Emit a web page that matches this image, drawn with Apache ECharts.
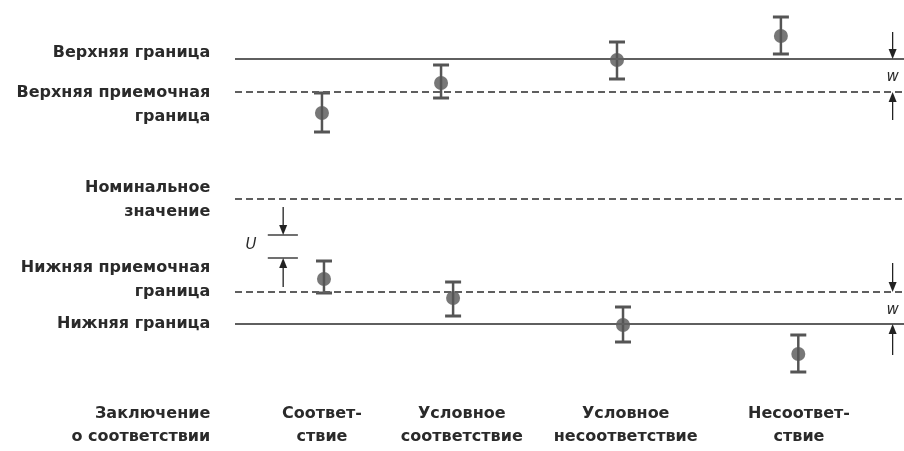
<!DOCTYPE html>
<html>
<head>
<meta charset="utf-8">
<script src="https://cdn.jsdelivr.net/npm/echarts@6/dist/echarts.min.js"></script>
<style>
  html, body { margin: 0; padding: 0; background: #fff; }
  #chart { width: 904px; height: 451px; }
</style>
</head>
<body>
<div id="chart"></div>
<script>
// Tolerance limits, in units relative to the nominal value
const upperLimit = 14.0;
const upperAcceptance = 10.7;
const nominalValue = 0;
const lowerAcceptance = -9.3;
const lowerLimit = -12.5;

// Measurement results near the upper limit: position, value, interval ends
const upperX = [13.0, 30.8, 57.1, 81.6];
const upperValues = [8.6, 11.6, 13.9, 16.3];
const upperLow = [6.7, 10.1, 12.0, 14.5];
const upperHigh = [10.6, 13.4, 15.7, 18.2];

// Measurement results near the lower limit
const lowerX = [13.3, 32.6, 58.0, 84.2];
const lowerValues = [-8.0, -9.9, -12.6, -15.5];
const lowerLow = [-9.4, -11.7, -14.3, -17.3];
const lowerHigh = [-6.2, -8.3, -10.8, -13.6];

// Conformity decisions under each pair of results
const categories = [
  ['Соответ-', 'ствие'],
  ['Условное', 'соответствие'],
  ['Условное', 'несоответствие'],
  ['Несоответ-', 'ствие']
];
const categoryX = [13.0, 33.9, 58.4, 84.3];
const categoryRowY = [-21.5, -23.8];
const conclusionTitle = ['Заключение', 'о соответствии'];

// Limit names on the left, one entry per text line
const limitLabelLines = ['Верхняя граница', 'Верхняя приемочная', 'граница',
  'Номинальное', 'значение', 'Нижняя приемочная', 'граница', 'Нижняя граница'];
const limitLabelY = [14.6, 10.6, 8.2, 1.1, -1.3, -6.9, -9.3, -12.5];
const labelX = -3.7;

// Guard band (w) and uncertainty (U) dimension arrows: [x, from, to]
const wX = 98.3;
const dimensionArrows = [
  [wX, 16.7, upperLimit], [wX, 7.9, upperAcceptance],
  [wX, -6.4, lowerAcceptance], [wX, -15.6, lowerLimit],
  [7.2, -0.8, -3.6], [7.2, -8.8, -5.9]
];
const uTicks = [-3.6, -5.9];
const uTickX = [4.9, 9.4];
const dimensionText = [['w', wX, 12.2], ['w', wX, -11.1], ['U', 2.4, -4.6]];

const textFont = '"DejaVu Sans", sans-serif';
const inkColor = '#2a2a2a';
const markColor = '#555';
const lineColor = '#5f5f5f';

const chart = echarts.init(document.getElementById('chart'));

function errorBarItem(params, api) {
  const x = api.value(0);
  const top = api.coord([x, api.value(2)]);
  const bottom = api.coord([x, api.value(1)]);
  const half = 8;
  const style = { stroke: markColor, lineWidth: 3 };
  return {
    type: 'group',
    children: [
      { type: 'line', shape: { x1: top[0], y1: top[1], x2: bottom[0], y2: bottom[1] }, style: { stroke: markColor, lineWidth: 2.5 } },
      { type: 'line', shape: { x1: top[0] - half, y1: top[1], x2: top[0] + half, y2: top[1] }, style },
      { type: 'line', shape: { x1: bottom[0] - half, y1: bottom[1], x2: bottom[0] + half, y2: bottom[1] }, style }
    ]
  };
}

function arrowItem(params, api) {
  const from = api.coord([api.value(0), api.value(1)]);
  const to = api.coord([api.value(0), api.value(2)]);
  const dir = to[1] > from[1] ? 1 : -1;
  const headLen = 10, headHalf = 4;
  return {
    type: 'group',
    children: [
      { type: 'line', shape: { x1: from[0], y1: from[1], x2: to[0], y2: to[1] - dir * headLen }, style: { stroke: '#222', lineWidth: 1.3 } },
      { type: 'polygon', shape: { points: [[to[0], to[1]], [to[0] - headHalf, to[1] - dir * headLen], [to[0] + headHalf, to[1] - dir * headLen]] }, style: { fill: '#222' } }
    ]
  };
}

function textItem(align, font) {
  return function (params, api) {
    const p = api.coord([api.value(1), api.value(2)]);
    return {
      type: 'text',
      x: p[0], y: p[1],
      style: {
        text: api.value(0),
        align: align,
        verticalAlign: 'middle',
        fill: inkColor,
        font: font
      }
    };
  };
}

const boldFont = 'bold 16px ' + textFont;
const leftLabels = limitLabelLines.map((t, i) => [t, labelX, limitLabelY[i]]);
const bottomLabels = [];
categories.forEach((lines, i) => lines.forEach((t, j) => bottomLabels.push([t, categoryX[i], categoryRowY[j]])));
const titleLabels = conclusionTitle.map((t, j) => [t, labelX, categoryRowY[j]]);

chart.setOption({
  animation: false,
  backgroundColor: '#fff',
  grid: { left: 235, right: 0, top: 0, bottom: 0 },
  xAxis: { type: 'value', min: 0, max: 100, show: false },
  yAxis: { type: 'value', min: -25.2, max: 19.9, show: false },
  series: [
    {
      type: 'line', data: [], silent: true,
      markLine: {
        symbol: 'none', silent: true, label: { show: false },
        data: [
          { yAxis: upperLimit, lineStyle: { type: 'solid', color: lineColor, width: 2 } },
          { yAxis: upperAcceptance, lineStyle: { type: [7, 4], color: lineColor, width: 2 } },
          { yAxis: nominalValue, lineStyle: { type: [7, 4], color: lineColor, width: 2 } },
          { yAxis: lowerAcceptance, lineStyle: { type: [7, 4], color: lineColor, width: 2 } },
          { yAxis: lowerLimit, lineStyle: { type: 'solid', color: lineColor, width: 2 } }
        ]
      }
    },
    {
      type: 'custom', renderItem: errorBarItem, clip: false, z: 3,
      data: upperX.map((x, i) => [x, upperLow[i], upperHigh[i]])
        .concat(lowerX.map((x, i) => [x, lowerLow[i], lowerHigh[i]]))
    },
    {
      type: 'scatter', symbol: 'circle', symbolSize: 14, z: 4,
      itemStyle: { color: markColor },
      data: upperX.map((x, i) => [x, upperValues[i]])
        .concat(lowerX.map((x, i) => [x, lowerValues[i]]))
    },
    {
      type: 'custom', renderItem: arrowItem, clip: false, z: 5,
      data: dimensionArrows
    },
    {
      type: 'custom', clip: false, z: 5,
      renderItem: function (params, api) {
        const y = api.value(0);
        const a = api.coord([uTickX[0], y]);
        const b = api.coord([uTickX[1], y]);
        return { type: 'line', shape: { x1: a[0], y1: a[1], x2: b[0], y2: b[1] }, style: { stroke: '#222', lineWidth: 1.3 } };
      },
      data: uTicks.map(v => [v])
    },
    {
      type: 'custom', clip: false, z: 5,
      renderItem: textItem('center', 'italic 15px ' + textFont),
      dimensions: ['text', 'x', 'y'],
      encode: { x: 1, y: 2 },
      data: dimensionText
    },
    {
      type: 'custom', clip: false, z: 5,
      renderItem: textItem('right', boldFont),
      dimensions: ['text', 'x', 'y'],
      encode: { x: 1, y: 2 },
      data: leftLabels.concat(titleLabels)
    },
    {
      type: 'custom', clip: false, z: 5,
      renderItem: textItem('center', boldFont),
      dimensions: ['text', 'x', 'y'],
      encode: { x: 1, y: 2 },
      data: bottomLabels
    }
  ]
});
</script>
</body>
</html>
